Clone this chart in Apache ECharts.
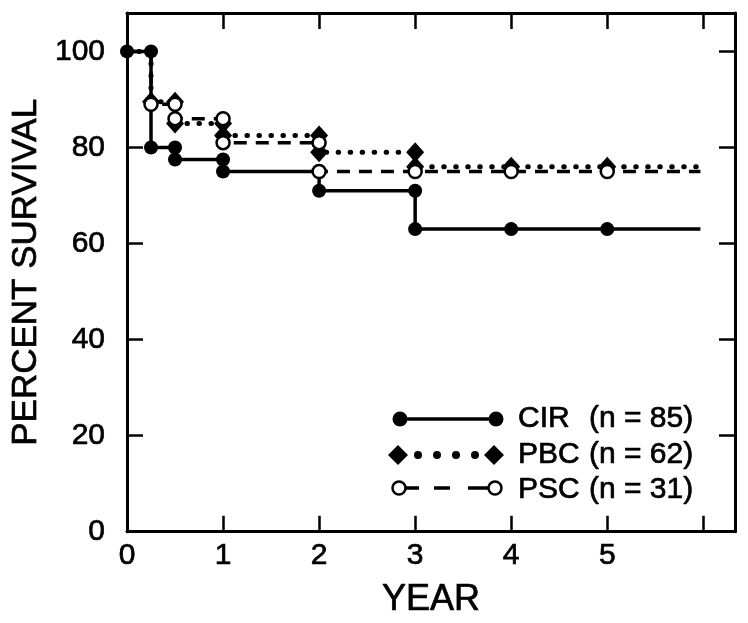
<!DOCTYPE html>
<html>
<head>
<meta charset="utf-8">
<script src="https://cdn.jsdelivr.net/npm/echarts@6/dist/echarts.min.js"></script>
<style>html,body{margin:0;padding:0;background:#fff;}#c{width:748px;height:623px;}</style>
</head>
<body>
<div id="c"></div>
<script>
// ---- data ----
const cirTimes = [0, 0.25, 0.5, 1, 2, 3, 4, 5];
const cirValues = [100, 80, 77.5, 75, 71, 63, 63, 63];
const pbcTimes = [0, 0.25, 0.5, 1, 2, 3, 4, 5];
const pbcValues = [100, 89.5, 85, 82.5, 79, 76, 76, 76];
const pscTimes = [0, 0.25, 0.5, 1, 2, 3, 4, 5];
const pscValues = [100, 89, 86, 81, 75, 75, 75, 75];
const followUpEnd = 5.97;
const xTickLabels = ['0', '1', '2', '3', '4', '5'];
const yTickLabels = ['0', '20', '40', '60', '80', '100'];
const legendNames = ['CIR', 'PBC', 'PSC'];
const legendCounts = ['(n = 85)', '(n = 62)', '(n = 31)'];

const FONT = '"Liberation Sans", Arial, Helvetica, sans-serif';
const THICK = { textBorderColor: '#000', textBorderWidth: 0.7 };

function stepPoints(times, values, hideAt100) {
  const pts = [];
  for (let i = 0; i < times.length; i++) {
    if (i > 0 && values[i] !== values[i - 1]) {
      pts.push({ value: [times[i], values[i - 1]], hide: hideAt100 && values[i - 1] === 100 });
    }
    pts.push({ value: [times[i], values[i]], hide: hideAt100 && values[i] === 100 });
  }
  pts.push({ value: [followUpEnd, values[values.length - 1]], hide: true });
  return pts.map(p => p.hide ? { value: p.value, symbol: 'none' } : { value: p.value });
}

const chart = echarts.init(document.getElementById('c'), null, { renderer: 'canvas' });

const axisLine = { show: true, onZero: false, lineStyle: { color: '#000', width: 3 } };
const tick = { show: true, inside: true, length: 16, lineStyle: { color: '#000', width: 2.5 } };

function legendText(txt, x, y) {
  return { type: 'text', x: x, y: y, style: { text: txt, fill: '#000', stroke: '#000', lineWidth: 0.7, font: '30px ' + FONT, textVerticalAlign: 'middle' } };
}

const option = {
  backgroundColor: '#fff',
  animation: false,
  grid: { left: 127, right: 13, top: 13, bottom: 91, containLabel: false },
  xAxis: [{
    type: 'value', min: 0, max: 6.33, interval: 1,
    axisLine: axisLine, axisTick: tick, splitLine: { show: false },
    axisLabel: Object.assign({
      margin: 9, color: '#000', fontFamily: FONT, fontSize: 30,
      formatter: v => { const i = xTickLabels.indexOf(String(v)); return i >= 0 ? xTickLabels[i] : ''; }
    }, THICK),
    name: 'YEAR', nameLocation: 'middle', nameGap: 50,
    nameTextStyle: Object.assign({ color: '#000', fontFamily: FONT, fontSize: 36 }, THICK)
  }, {
    type: 'value', position: 'top', min: 0, max: 6.33, interval: 1,
    axisLine: axisLine, axisTick: tick, axisLabel: { show: false }, splitLine: { show: false }
  }],
  yAxis: [{
    type: 'value', min: 0, max: 108, interval: 20,
    axisLine: axisLine, axisTick: tick, splitLine: { show: false },
    axisLabel: Object.assign({
      margin: 22, color: '#000', fontFamily: FONT, fontSize: 30,
      formatter: v => { const i = yTickLabels.indexOf(String(v)); return i >= 0 ? yTickLabels[i] : ''; }
    }, THICK),
    name: 'PERCENT SURVIVAL', nameLocation: 'middle', nameGap: 80, nameRotate: 90,
    nameTextStyle: Object.assign({ color: '#000', fontFamily: FONT, fontSize: 35 }, THICK)
  }, {
    type: 'value', position: 'right', min: 0, max: 108, interval: 20,
    axisLine: axisLine, axisTick: tick, axisLabel: { show: false }, splitLine: { show: false }
  }],
  series: [{
    name: 'CIR', type: 'line', z: 2,
    data: stepPoints(cirTimes, cirValues, false),
    symbol: 'circle', symbolSize: 14, showAllSymbol: true,
    itemStyle: { color: '#000' },
    lineStyle: { color: '#000', width: 3.5 }
  }, {
    name: 'PBC', type: 'line', z: 3,
    data: stepPoints(pbcTimes, pbcValues, true),
    symbol: 'diamond', symbolSize: [18, 20], showAllSymbol: true,
    itemStyle: { color: '#000' },
    lineStyle: { color: '#000', width: 5, type: [0.5, 11.5], cap: 'round' }
  }, {
    name: 'PSC', type: 'line', z: 4,
    data: stepPoints(pscTimes, pscValues, true),
    symbol: 'circle', symbolSize: 13, showAllSymbol: true,
    itemStyle: { color: '#fff', borderColor: '#000', borderWidth: 2.5 },
    lineStyle: { color: '#000', width: 3.5, type: [13, 9] }
  }],
  graphic: [
    // CIR legend sample
    { type: 'line', shape: { x1: 400, y1: 419, x2: 496, y2: 419 }, style: { stroke: '#000', lineWidth: 3.5 } },
    { type: 'circle', shape: { cx: 400, cy: 419, r: 7.5 }, style: { fill: '#000' } },
    { type: 'circle', shape: { cx: 496, cy: 419, r: 7.5 }, style: { fill: '#000' } },
    // PBC legend sample
    { type: 'polygon', shape: { points: [[398, 445], [408, 455], [398, 465], [388, 455]] }, style: { fill: '#000' } },
    { type: 'polygon', shape: { points: [[494, 445], [504, 455], [494, 465], [484, 455]] }, style: { fill: '#000' } },
    { type: 'circle', shape: { cx: 418, cy: 455, r: 4 }, style: { fill: '#000' } },
    { type: 'circle', shape: { cx: 437, cy: 455, r: 4 }, style: { fill: '#000' } },
    { type: 'circle', shape: { cx: 456, cy: 455, r: 4 }, style: { fill: '#000' } },
    { type: 'circle', shape: { cx: 475, cy: 455, r: 4 }, style: { fill: '#000' } },
    // PSC legend sample
    { type: 'line', shape: { x1: 405, y1: 488, x2: 419, y2: 488 }, style: { stroke: '#000', lineWidth: 3.5 } },
    { type: 'line', shape: { x1: 434, y1: 488, x2: 450, y2: 488 }, style: { stroke: '#000', lineWidth: 3.5 } },
    { type: 'line', shape: { x1: 468, y1: 488, x2: 489, y2: 488 }, style: { stroke: '#000', lineWidth: 3.5 } },
    { type: 'circle', shape: { cx: 399, cy: 488, r: 6.5 }, style: { fill: '#fff', stroke: '#000', lineWidth: 2.5 } },
    { type: 'circle', shape: { cx: 495, cy: 488, r: 6.5 }, style: { fill: '#fff', stroke: '#000', lineWidth: 2.5 } },
    // legend texts
    legendText(legendNames[0], 518, 419),
    legendText(legendNames[1], 518, 455),
    legendText(legendNames[2], 518, 490),
    legendText(legendCounts[0], 589, 419),
    legendText(legendCounts[1], 589, 455),
    legendText(legendCounts[2], 589, 490)
  ]
};
chart.setOption(option);
</script>
</body>
</html>
